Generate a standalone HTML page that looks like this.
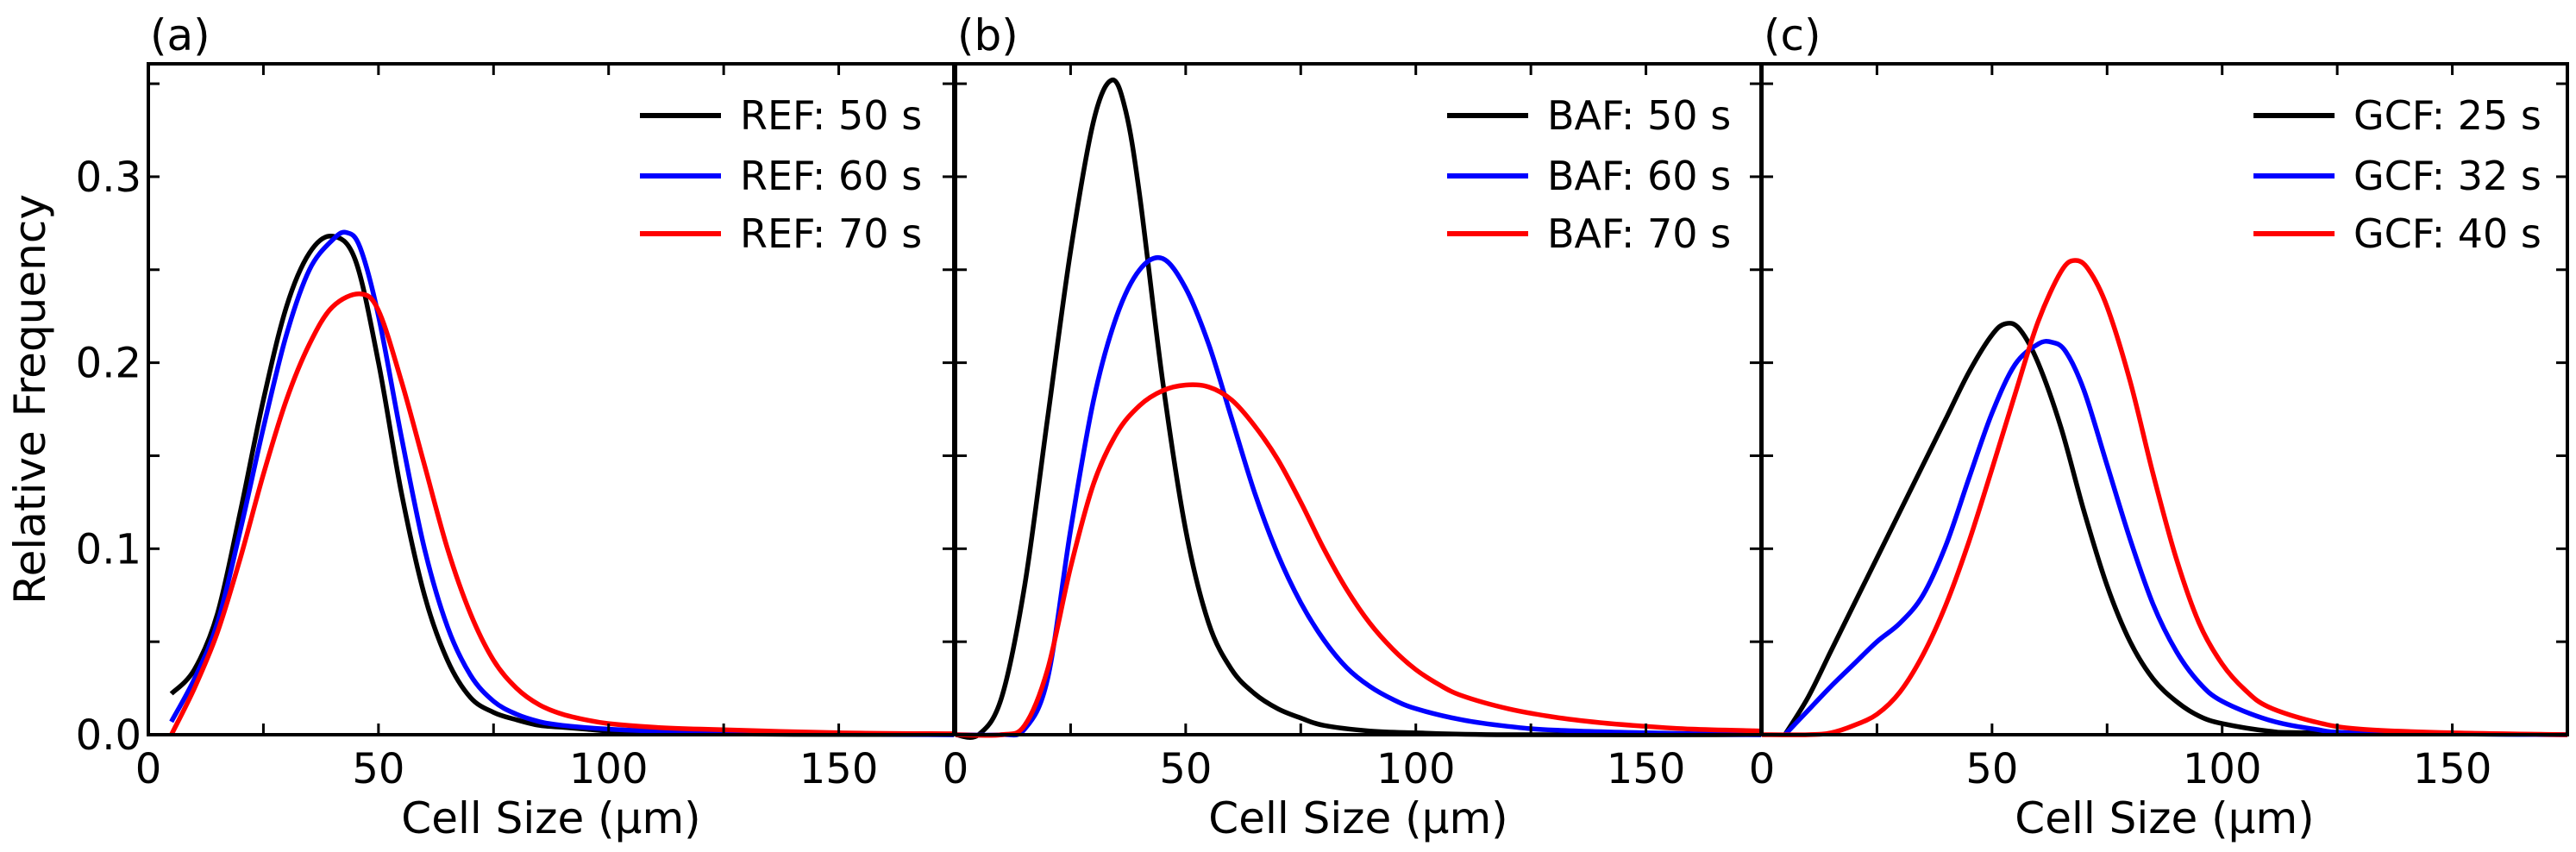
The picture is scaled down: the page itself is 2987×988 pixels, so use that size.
<!DOCTYPE html>
<html><head><meta charset="utf-8"><style>
html,body{margin:0;padding:0;background:#fff;}
svg{display:block;font-family:"DejaVu Sans","Liberation Sans",sans-serif;}
</style></head><body>
<svg id="chart" width="2987" height="988" viewBox="0 0 2987 988" xmlns="http://www.w3.org/2000/svg">
<g id="root"></g>
</svg>
<script>
// ---- data ----
const panelLabels = ["(a)", "(b)", "(c)"];
const legendLabels = [["REF: 50 s","REF: 60 s","REF: 70 s"],["BAF: 50 s","BAF: 60 s","BAF: 70 s"],["GCF: 25 s","GCF: 32 s","GCF: 40 s"]];
const xTicks = [0, 50, 100, 150];
const yTicks = [0.0, 0.1, 0.2, 0.3];
const yTickLabels = ["0.0", "0.1", "0.2", "0.3"];

const aBlackX = [5,10,15,20,25,30,35,40,45,50,55,60,65,70,75,80,85,90,95,100,110,120,140,175];
const aBlackY = [0.022,0.035,0.065,0.12,0.18,0.23,0.259,0.268,0.255,0.20,0.13,0.075,0.04,0.02,0.012,0.008,0.005,0.004,0.003,0.002,0.001,0.0005,0.0002,0];
const aBlueX = [5,10,15,20,25,30,35,40,43,46,50,55,60,65,70,75,80,85,90,100,110,130,175];
const aBlueY = [0.007,0.03,0.06,0.11,0.165,0.215,0.25,0.266,0.27,0.262,0.225,0.16,0.10,0.058,0.032,0.018,0.011,0.007,0.005,0.003,0.002,0.001,0];
const aRedX = [5,10,15,20,25,30,35,40,46,50,55,60,65,70,75,80,85,90,95,100,110,120,150,175];
const aRedY = [0,0.025,0.055,0.095,0.14,0.18,0.21,0.23,0.237,0.228,0.19,0.145,0.10,0.065,0.04,0.025,0.016,0.011,0.008,0.006,0.004,0.003,0.001,0.0005];

const bBlackX = [0,5,10,15,20,25,30,34,37,40,45,50,55,60,65,70,75,80,90,100,120,175];
const bBlackY = [0,0,0.02,0.08,0.17,0.26,0.33,0.352,0.335,0.29,0.19,0.11,0.06,0.035,0.022,0.014,0.009,0.005,0.002,0.001,0,0];
const bBlueX = [0,10,15,20,25,30,35,40,45,50,55,60,65,70,75,80,85,90,95,100,110,120,130,150,175];
const bBlueY = [0,0,0.003,0.03,0.11,0.18,0.225,0.25,0.256,0.24,0.21,0.17,0.13,0.097,0.071,0.051,0.036,0.026,0.019,0.014,0.008,0.0045,0.0025,0.001,0];
const bRedX = [0,10,15,20,25,30,35,40,45,50,55,60,65,70,75,80,85,90,95,100,105,110,120,130,140,150,160,175];
const bRedY = [0,0,0.005,0.035,0.09,0.135,0.162,0.177,0.185,0.188,0.187,0.18,0.166,0.148,0.125,0.1,0.078,0.06,0.046,0.035,0.027,0.021,0.014,0.0095,0.0065,0.0045,0.003,0.002];

const cBlackX = [5,10,15,20,25,30,35,40,45,50,53,56,60,65,70,75,80,85,90,95,100,110,120,175];
const cBlackY = [0,0.02,0.045,0.07,0.095,0.12,0.145,0.17,0.195,0.215,0.221,0.218,0.2,0.165,0.12,0.08,0.05,0.03,0.018,0.01,0.006,0.002,0.001,0];
const cBlueX = [5,10,15,20,25,30,35,40,45,50,55,60,63,66,70,75,80,85,90,95,100,110,120,130,175];
const cBlueY = [0,0.013,0.026,0.038,0.05,0.06,0.075,0.102,0.138,0.173,0.199,0.21,0.211,0.206,0.185,0.145,0.105,0.07,0.045,0.028,0.018,0.008,0.003,0.001,0];
const cRedX = [0,10,15,20,25,30,35,40,45,50,55,60,65,68,71,75,80,85,90,95,100,105,110,120,130,150,175];
const cRedY = [0,0,0.001,0.005,0.011,0.023,0.043,0.07,0.104,0.143,0.183,0.222,0.249,0.255,0.25,0.23,0.19,0.14,0.095,0.06,0.038,0.024,0.015,0.007,0.003,0.001,0];

const seriesColors = ["#000000", "#0000ff", "#ff0000"];
const panelSeries = [
  [[aBlackX,aBlackY],[aBlueX,aBlueY],[aRedX,aRedY]],
  [[bBlackX,bBlackY],[bBlueX,bBlueY],[bRedX,bRedY]],
  [[cBlackX,cBlackY],[cBlueX,cBlueY],[cRedX,cRedY]]
];

// ---- layout ----
const NS = "http://www.w3.org/2000/svg";
const root = document.getElementById("root");
const panelLeft = [172, 1108, 2043];
const panelWidth = 934;
const top0 = 74, bottom0 = 852;
const xMax = 175, yMax = 0.3607;

function mk(tag, attrs, parent) {
  const e = document.createElementNS(NS, tag);
  for (const k in attrs) e.setAttribute(k, attrs[k]);
  (parent || root).appendChild(e);
  return e;
}
function smoothPath(pts) {
  let d = "M" + pts[0][0].toFixed(1) + "," + pts[0][1].toFixed(1);
  for (let i = 0; i < pts.length - 1; i++) {
    const p0 = pts[i - 1] || pts[i], p1 = pts[i], p2 = pts[i + 1], p3 = pts[i + 2] || p2;
    const c1x = p1[0] + (p2[0] - p0[0]) / 6, c1y = p1[1] + (p2[1] - p0[1]) / 6;
    const c2x = p2[0] - (p3[0] - p1[0]) / 6, c2y = p2[1] - (p3[1] - p1[1]) / 6;
    d += " C" + c1x.toFixed(1) + "," + c1y.toFixed(1) + " " + c2x.toFixed(1) + "," + c2y.toFixed(1) + " " + p2[0].toFixed(1) + "," + p2[1].toFixed(1);
  }
  return d;
}

for (let p = 0; p < 3; p++) {
  const L = panelLeft[p], R = L + panelWidth;
  const sx = v => L + v / xMax * panelWidth;
  const sy = v => bottom0 - v / yMax * (bottom0 - top0);
  const g = mk("g", {});
  
  

  const lbl = mk("text", {x: L + 2, y: 58, "font-size": 50, fill: "#000"}, g);
  lbl.textContent = panelLabels[p];
  
  

  const sg = mk("g", {}, g);
  
  
  panelSeries[p].forEach((s, i) => {
    const pts = s[0].map((x, k) => [sx(x), sy(s[1][k])]);
    const path = mk("path", {d: smoothPath(pts), fill: "none", stroke: seriesColors[i], "stroke-width": 5.5, "stroke-linejoin": "round"}, sg);
    
    
  });

  const frame = mk("rect", {x: L, y: top0, width: panelWidth, height: bottom0 - top0, fill: "none", stroke: "#000", "stroke-width": 4}, g);
  
  

  for (let v = 0; v <= 175; v += 25) {
    const x = sx(v);
    mk("line", {x1: x, y1: bottom0, x2: x, y2: bottom0 - 13, stroke: "#000", "stroke-width": 3}, g);
    mk("line", {x1: x, y1: top0, x2: x, y2: top0 + 13, stroke: "#000", "stroke-width": 3}, g);
  }
  xTicks.forEach(v => {
    const t = mk("text", {x: sx(v), y: 908, "font-size": 48, "text-anchor": "middle", fill: "#000"}, g);
    t.textContent = String(v);
    
    
  });
  for (let v = 0; v <= 0.351; v += 0.05) {
    const y = sy(v);
    mk("line", {x1: L, y1: y, x2: L + 13, y2: y, stroke: "#000", "stroke-width": 3}, g);
    mk("line", {x1: R, y1: y, x2: R - 13, y2: y, stroke: "#000", "stroke-width": 3}, g);
  }
  if (p === 0) {
    yTicks.forEach((v, i) => {
      const t = mk("text", {x: L - 8, y: sy(v) + 17, "font-size": 48, "text-anchor": "end", fill: "#000"}, g);
      t.textContent = yTickLabels[i];
      
      
    });
  }
  const xt = mk("text", {x: L + 467, y: 966, "font-size": 50, "text-anchor": "middle", fill: "#000"}, g);
  xt.textContent = "Cell Size (\u03bcm)";
  
  

  const lg = mk("g", {}, g);
  
  
  const legX = R - 364;
  [134, 204, 271].forEach((y, i) => {
    const e = mk("g", {}, lg);
    
    
    mk("line", {x1: legX, y1: y, x2: legX + 94, y2: y, stroke: seriesColors[i], "stroke-width": 6}, e);
    const t = mk("text", {x: legX + 116, y: y + 16, "font-size": 46, fill: "#000"}, e);
    t.textContent = legendLabels[p][i];
  });
}
const yt = mk("text", {x: 0, y: 0, "font-size": 50, "text-anchor": "middle", fill: "#000", transform: "translate(52,463) rotate(-90)"});
yt.textContent = "Relative Frequency";


</script>
</body></html>
